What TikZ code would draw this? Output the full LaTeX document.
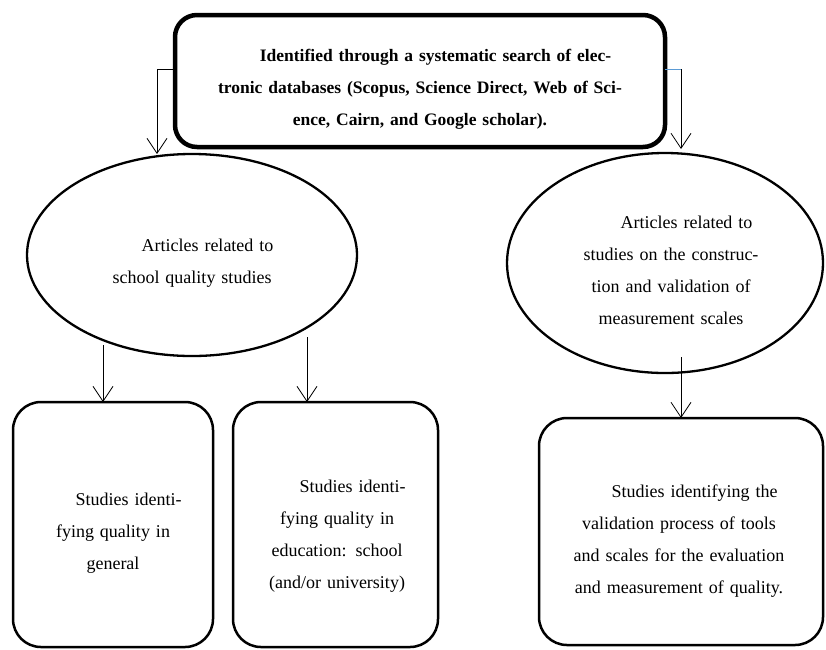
\documentclass[tikz,border=0pt]{standalone}
\usepackage{fontspec}
\setmainfont{Liberation Serif}
\usetikzlibrary{shapes.geometric,arrows.meta,calc}
\definecolor{lnblue}{RGB}{91,155,213}
\begin{document}
\begin{tikzpicture}[x=1pt,y=-1pt,
  every node/.style={inner sep=0pt,outer sep=0pt},
  txt/.style={align=center,font=\fontsize{18}{32}\selectfont},
  ellbox/.style={draw,ellipse,line width=2.3pt},
  rbox/.style={draw,rectangle,rounded corners=28pt,line width=2.5pt},
  arr/.style={line width=0.8pt,-{Straight Barb[length=15pt,width=20pt,line width=0.8pt]}}]
\useasboundingbox (0,0) rectangle (826,649);

% top box
\node[draw,rectangle,rounded corners=22pt,line width=4.5pt,minimum width=490pt,minimum height=132pt] (top) at (420,81) {};
\node[align=center,text width=475pt,font=\fontsize{17.5}{32}\selectfont\bfseries] (ttop) at (420,89) {\hspace*{31pt}Identified through a systematic search of elec-\\tronic databases (Scopus, Science Direct, Web of Sci-\\ence, Cairn, and Google scholar).};

% ellipses
\node[ellbox,minimum width=330pt,minimum height=202pt] (e1) at (192,255) {};
\node[txt,text width=280pt] (te1) at (192,263) {\hspace*{31pt}Articles related to\\school quality studies};
\node[ellbox,minimum width=316pt,minimum height=220pt] (e2) at (665,263) {};
\node[txt,text width=260pt] (te2) at (671,270) {\hspace*{31pt}Articles related to\\studies on the construc-\\tion and validation of\\measurement scales};

% bottom boxes
\node[rbox,minimum width=200pt,minimum height=245pt] (b1) at (113,524.5) {};
\node[txt,text width=190pt] (tb1) at (113,533) {\hspace*{31pt}Studies identi-\\fying quality in\\general};
\node[rbox,minimum width=205pt,minimum height=245pt] (b2) at (335.5,524.5) {};
\node[txt,text width=200pt] (tb2) at (337,536) {\hspace*{31pt}Studies identi-\\fying quality in\\education: school\\(and/or university)};
\node[rbox,minimum width=284pt,minimum height=227pt] (b3) at (681,531.5) {};
\node[txt,text width=280pt] (tb3) at (679,541.5) {\hspace*{31pt}Studies identifying the\\validation process of tools\\and scales for the evaluation\\and measurement of quality.};

% connector end points
\coordinate (e1tip) at (157,154);
\coordinate (e2tip) at (681,149);
\coordinate (a1s) at (103,345);
\coordinate (a2s) at (307,337);
\coordinate (a3s) at (681,357);

% connectors
\draw[arr] ([yshift=12pt]top.west) -| (e1tip);
\draw[arr] ([yshift=12pt]top.east) -| (e2tip);
\draw[lnblue,line width=0.8pt] ([yshift=12pt]top.east) -- ([yshift=12pt]top.east -| e2tip);
\draw[arr] (a1s) -- (a1s |- b1.north);
\draw[arr] (a2s) -- (a2s |- b2.north);
\draw[arr] (a3s) -- (a3s |- b3.north);
\end{tikzpicture}
\end{document}
